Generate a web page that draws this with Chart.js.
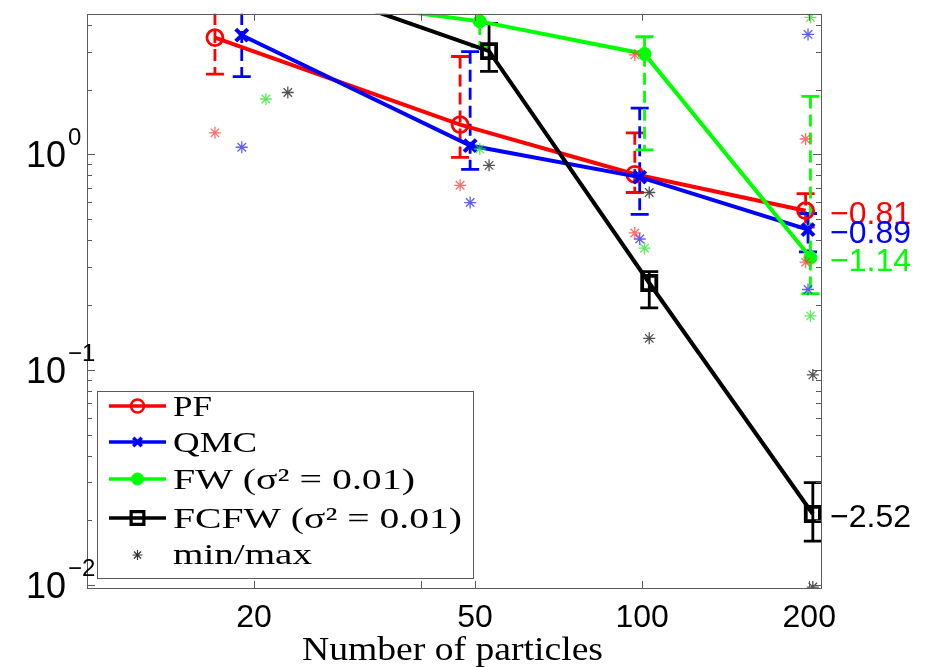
<!DOCTYPE html>
<html><head><meta charset="utf-8">
<script src="https://cdn.jsdelivr.net/npm/chart.js@4.4.1/dist/chart.umd.min.js"></script>
<style>html,body{margin:0;padding:0;background:#fff;}canvas{display:block;}</style>
</head><body>
<canvas id="c" width="935" height="667"></canvas>
<script>
// ---- data ----
const seriesNames = ['PF', 'QMC', 'FW (σ² = 0.01)', 'FCFW (σ² = 0.01)'];

const xPF   = [17, 47, 97, 197];
const yPF   = [3.49, 1.376, 0.809, 0.548];
const loPF  = [2.36, 0.969, 0.666, 0.46];
const hiPF  = [5.5, 2.85, 1.26, 0.658];
const minPF = [1.26, 0.719, 0.432, 0.316];
const maxPF = [null, null, 2.90, 1.18];

const xQMC   = [19, 49, 99, 199];
const yQMC   = [3.58, 1.10, 0.785, 0.448];
const loQMC  = [2.30, 0.853, 0.527, 0.353];
const hiQMC  = [5.5, 3.00, 1.64, 0.532];
const minQMC = [1.08, 0.598, 0.405, 0.236];
const maxQMC = [null, null, null, 3.61];

const xFW   = [21, 51, 101, 201];
const yFW   = [5.6, 4.15, 2.93, 0.332];
const loFW  = [4.7, 3.17, 1.05, 0.2256];
const hiFW  = [6.6, 6.0, 3.52, 1.86];
const minFW = [1.81, 1.06, 0.367, 0.178];
const maxFW = [null, null, null, 4.33];

const xFCFW   = [23, 53, 103, 203];
const yFCFW   = [6.4, 3.02, 0.253, 0.0214];
const loFCFW  = [4.8, 2.43, 0.194, 0.016];
const hiFCFW  = [8.5, 4.06, 0.286, 0.0299];
const minFCFW = [1.94, 0.89, 0.14, 0.0098];
const maxFCFW = [null, null, 0.666, 0.0947];

const slopeLabels = ['−0.81', '−0.89', '−1.14', '−2.52'];
const xTickValues = [20, 40, 50, 100, 200];
const xTickLabels = ['20', '', '50', '100', '200'];
const yTickValues = [0.01, 0.1, 1];
const yTickExponents = ['−2', '−1', '0'];
const xTitle = 'Number of particles';
const minMaxLabel = 'min/max';

// ---- styles ----
const colors = ['#ff0000', '#0000ff', '#00ff00', '#000000'];
const starColors = ['rgba(255,60,60,0.75)', 'rgba(40,40,255,0.75)', 'rgba(40,230,40,0.75)', 'rgba(40,40,40,0.8)'];
const markerStyle = [
  {pointStyle: 'circle', radius: 8, borderWidth: 2.8, fill: 'rgba(0,0,0,0)'},
  {pointStyle: 'crossRot', radius: 8.5, borderWidth: 4, fill: 'rgba(0,0,0,0)'},
  {pointStyle: 'circle', radius: 6.5, borderWidth: 1, fill: '#00ff00'},
  {pointStyle: 'rect', radius: 10, borderWidth: 3.8, fill: 'rgba(0,0,0,0)'}
];
const barDash = [[12,6],[12,6],[12,6],[]];

const xs = [xPF, xQMC, xFW, xFCFW];
const ys = [yPF, yQMC, yFW, yFCFW];
const los = [loPF, loQMC, loFW, loFCFW];
const his = [hiPF, hiQMC, hiFW, hiFCFW];
const mins = [minPF, minQMC, minFW, minFCFW];
const maxs = [maxPF, maxQMC, maxFW, maxFCFW];

const datasets = [];
for (let s = 0; s < 4; s++) {
  datasets.push({
    label: seriesNames[s],
    data: xs[s].map((x, i) => ({x: x, y: ys[s][i]})),
    showLine: true,
    borderColor: colors[s],
    borderWidth: 4,
    pointStyle: markerStyle[s].pointStyle,
    pointRadius: markerStyle[s].radius,
    pointBorderWidth: markerStyle[s].borderWidth,
    pointBackgroundColor: markerStyle[s].fill,
    pointBorderColor: colors[s],
    order: 10 - s
  });
}
for (let s = 0; s < 4; s++) {
  const pts = [];
  xs[s].forEach((x, i) => {
    if (mins[s][i] != null) pts.push({x: x, y: mins[s][i]});
    if (maxs[s][i] != null) pts.push({x: x, y: maxs[s][i]});
  });
  datasets.push({
    label: 'minmax' + s,
    data: pts,
    showLine: false,
    pointStyle: 'star',
    pointRadius: 6,
    pointBorderWidth: 1.3,
    pointBorderColor: starColors[s],
    pointBackgroundColor: starColors[s],
    order: 1
  });
}

function fitText(ctx, txt, x, y, font, width) {
  ctx.save();
  ctx.font = font;
  const w = ctx.measureText(txt).width;
  const sc = width ? width / w : 1;
  ctx.translate(x, y);
  ctx.scale(sc, 1);
  ctx.textAlign = 'left';
  ctx.textBaseline = 'alphabetic';
  ctx.fillText(txt, 0, 0);
  ctx.restore();
}

const overlay = {
  id: 'overlay',
  beforeDatasetsDraw(chart) {
    const ctx = chart.ctx, xS = chart.scales.x, yS = chart.scales.y, a = chart.chartArea;
    ctx.save();
    ctx.beginPath();
    ctx.rect(a.left, a.top, a.right - a.left, a.bottom - a.top);
    ctx.clip();
    for (let s = 0; s < 4; s++) {
      ctx.strokeStyle = colors[s];
      ctx.lineWidth = 2.8;
      xs[s].forEach((x, i) => {
        const px = xS.getPixelForValue(x);
        const pl = yS.getPixelForValue(los[s][i]);
        const ph = yS.getPixelForValue(his[s][i]);
        ctx.setLineDash(barDash[s]);
        ctx.beginPath(); ctx.moveTo(px, ph); ctx.lineTo(px, pl); ctx.stroke();
        ctx.setLineDash([]);
        ctx.beginPath();
        ctx.moveTo(px - 9, ph); ctx.lineTo(px + 9, ph);
        ctx.moveTo(px - 9, pl); ctx.lineTo(px + 9, pl);
        ctx.stroke();
      });
    }
    ctx.restore();
  },
  afterDraw(chart) {
    const ctx = chart.ctx, xS = chart.scales.x, yS = chart.scales.y, a = chart.chartArea;
    ctx.save();
    // frame
    ctx.strokeStyle = '#5a5a5a';
    ctx.lineWidth = 1;
    ctx.strokeRect(Math.round(a.left) + 0.5, Math.round(a.top) + 0.5, Math.round(a.right - a.left), Math.round(a.bottom - a.top));
    // y ticks
    ctx.beginPath();
    for (let d = -2; d <= 0; d++) {
      for (let k = 1; k <= 9; k++) {
        const v = k * Math.pow(10, d);
        if (v < yS.min || v > yS.max) continue;
        const py = Math.round(yS.getPixelForValue(v)) + 0.5;
        const len = k === 1 ? 8 : 5;
        ctx.moveTo(a.left, py); ctx.lineTo(a.left + len, py);
        ctx.moveTo(a.right, py); ctx.lineTo(a.right - len, py);
      }
    }
    // x ticks
    xTickValues.forEach(v => {
      const px = Math.round(xS.getPixelForValue(v)) + 0.5;
      ctx.moveTo(px, a.bottom); ctx.lineTo(px, a.bottom - 7);
      ctx.moveTo(px, a.top); ctx.lineTo(px, a.top + 7);
    });
    ctx.stroke();

    // x tick labels
    ctx.fillStyle = '#000';
    ctx.font = '32px "Liberation Sans", Arial, sans-serif';
    ctx.textAlign = 'center';
    ctx.textBaseline = 'alphabetic';
    xTickValues.forEach((v, i) => {
      if (!xTickLabels[i]) return;
      ctx.fillText(xTickLabels[i], xS.getPixelForValue(v), 627);
    });
    // y tick labels 10^n
    yTickValues.forEach((v, i) => {
      const py = yS.getPixelForValue(v);
      ctx.font = '36px "Liberation Sans", Arial, sans-serif';
      ctx.textAlign = 'right';
      ctx.fillText('10', 66, py + 13);
      ctx.font = '24px "Liberation Sans", Arial, sans-serif';
      ctx.textAlign = 'left';
      ctx.fillText(yTickExponents[i], 68, py - 9);
    });
    // axis title
    ctx.fillStyle = '#000';
    fitText(ctx, xTitle, 302, 660, '34px "Liberation Serif", "Times New Roman", serif', 301);

    // slope annotations
    ctx.font = '32px "Liberation Sans", Arial, sans-serif';
    ctx.textAlign = 'left';
    for (let s = 0; s < 4; s++) {
      ctx.fillStyle = colors[s];
      const py = yS.getPixelForValue(ys[s][3]);
      ctx.fillText(slopeLabels[s], 830, py + 13);
    }

    // legend
    const lx = 97, ly = 391, lw = 376, lh = 187;
    ctx.fillStyle = '#fff';
    ctx.fillRect(lx, ly, lw, lh);
    ctx.strokeStyle = '#5a5a5a';
    ctx.lineWidth = 1;
    ctx.strokeRect(lx + 0.5, ly + 0.5, lw, lh);
    const rows = [406, 442, 479, 518, 555];
    const textW = [39, 84, 242, 289, 139];
    const legMark = [
      {pointStyle: 'circle', radius: 6.5, borderWidth: 2.5, fill: 'rgba(0,0,0,0)'},
      {pointStyle: 'crossRot', radius: 6, borderWidth: 3.5, fill: 'rgba(0,0,0,0)'},
      {pointStyle: 'circle', radius: 6, borderWidth: 1, fill: '#00ff00'},
      {pointStyle: 'rect', radius: 9, borderWidth: 3.2, fill: 'rgba(0,0,0,0)'}
    ];
    for (let s = 0; s < 4; s++) {
      const y = rows[s];
      ctx.strokeStyle = colors[s];
      ctx.lineWidth = 3.5;
      ctx.beginPath(); ctx.moveTo(109, y); ctx.lineTo(166, y); ctx.stroke();
      ctx.fillStyle = legMark[s].fill;
      ctx.strokeStyle = colors[s];
      ctx.lineWidth = legMark[s].borderWidth;
      Chart.helpers.drawPoint(ctx, {pointStyle: legMark[s].pointStyle, radius: legMark[s].radius, borderWidth: legMark[s].borderWidth, rotation: 0}, 137.5, y);
      ctx.fillStyle = '#000';
      fitText(ctx, seriesNames[s], 173, y + 10, '30px "Liberation Serif", "Times New Roman", serif', textW[s]);
    }
    ctx.strokeStyle = '#333';
    ctx.fillStyle = '#333';
    ctx.lineWidth = 1.2;
    Chart.helpers.drawPoint(ctx, {pointStyle: 'star', radius: 5, borderWidth: 1.2, rotation: 0}, 137.5, rows[4]);
    ctx.fillStyle = '#000';
    fitText(ctx, minMaxLabel, 173, rows[4] + 9, '30px "Liberation Serif", "Times New Roman", serif', textW[4]);
    ctx.restore();
  }
};

new Chart(document.getElementById('c'), {
  type: 'scatter',
  data: {datasets: datasets},
  options: {
    responsive: false,
    animation: false,
    devicePixelRatio: 1,
    layout: {padding: {left: 87, right: 114, top: 11, bottom: 79}},
    plugins: {legend: {display: false}, tooltip: {enabled: false}},
    scales: {
      x: {type: 'logarithmic', min: 10, max: 210, display: false},
      y: {type: 'logarithmic', min: 0.0097, max: 4.5, display: false}
    }
  },
  plugins: [overlay]
});
</script>
</body></html>
